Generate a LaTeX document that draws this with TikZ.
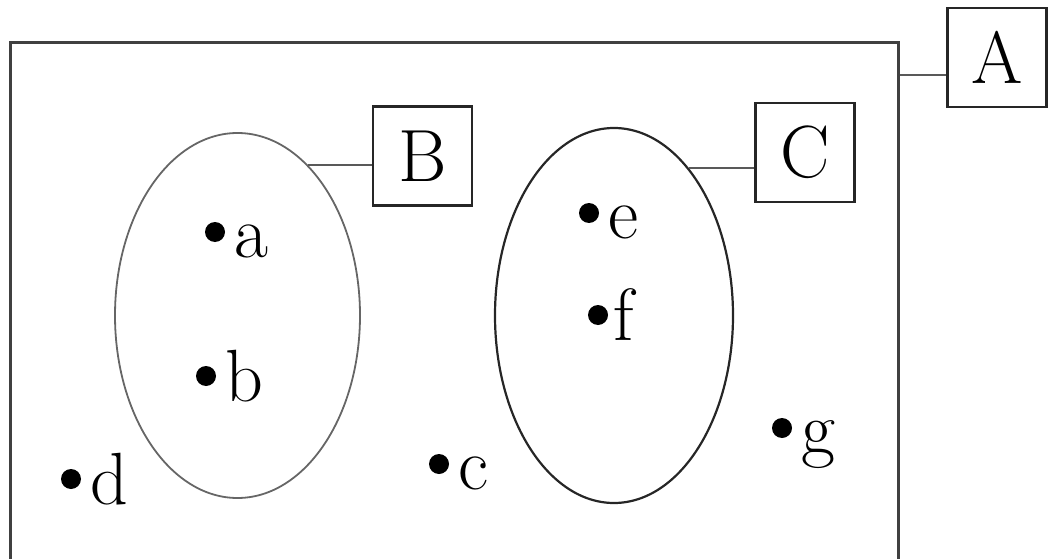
\documentclass[tikz,border=0pt]{standalone}
\usetikzlibrary{shapes.geometric}
\begin{document}
\begin{tikzpicture}[x=1pt,y=-1pt,
  setbox/.style={draw=black!85, line width=2.4pt, minimum width=99pt, minimum height=99pt, inner sep=0pt, font=\fontsize{74}{80}\selectfont},
  setell/.style={ellipse, draw, inner sep=0pt},
  pt/.style={circle, fill=black, inner sep=0pt, minimum size=20pt},
  lbl/.style={anchor=base west, font=\fontsize{74}{80}\selectfont, inner sep=0pt},
  link/.style={draw=black!65, line width=1.8pt}]
\useasboundingbox (0,0) rectangle (1052,559);
\clip (0,0) rectangle (1052,559);
% universe rectangle
\node[draw=black!75, line width=3pt, minimum width=888pt, minimum height=560pt, inner sep=0pt] (U) at (454,323) {};
% boxes
\node[setbox] (A) at (997,57.5) {A};
\node[setbox] (B) at (422.5,156) {B};
\node[setbox] (C) at (805,152.5) {C};
% ellipses
\node[setell, draw=black!60, line width=1.8pt, minimum width=245pt, minimum height=365pt] (EB) at (237.5,315.5) {};
\node[setell, draw=black!85, line width=2.2pt, minimum width=238pt, minimum height=375pt] (EC) at (614,315.5) {};
% connectors
\coordinate (ay) at (0,75);
\draw[link] (U.east |- ay) -- (A.west |- ay);
\draw[link] (EB.65) -- (EB.65 -| B.west);
\draw[link] (EC.63) -- (EC.63 -| C.west);
% elements
\node[pt] (pa) at (215,232) {};
\node[pt] (pb) at (206,376) {};
\node[pt] (pc) at (439,464) {};
\node[pt] (pd) at (71,479) {};
\node[pt] (pe) at (589,213) {};
\node[pt] (pf) at (598,315) {};
\node[pt] (pg) at (782,428) {};
\node[lbl] (la) at ([xshift=19pt,yshift=-25pt]pa.center) {a};
\node[lbl] (lb) at ([xshift=19pt,yshift=-25pt]pb.center) {b};
\node[lbl] (lc) at ([xshift=19pt,yshift=-25pt]pc.center) {c};
\node[lbl] (ld) at ([xshift=19pt,yshift=-25pt]pd.center) {d};
\node[lbl] (le) at ([xshift=19pt,yshift=-25pt]pe.center) {e};
\node[lbl] (lf) at ([xshift=15pt,yshift=-25pt]pf.center) {f};
\node[lbl] (lg) at ([xshift=19pt,yshift=-25pt]pg.center) {g};
\end{tikzpicture}
\end{document}
